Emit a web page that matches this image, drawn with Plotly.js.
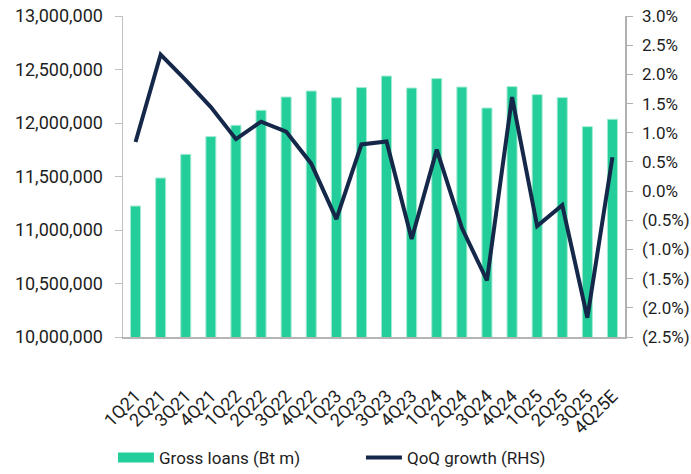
<!DOCTYPE html>
<html>
<head>
<meta charset="utf-8">
<script src="https://cdn.plot.ly/plotly-3.0.1.min.js"></script>
<style>html,body{margin:0;padding:0;background:#fff;}#chart{width:691px;height:474px;}</style>
</head>
<body>
<div id="chart"></div>
<script>
const quarters = ["1Q21","2Q21","3Q21","4Q21","1Q22","2Q22","3Q22","4Q22","1Q23","2Q23","3Q23","4Q23","1Q24","2Q24","3Q24","4Q24","1Q25","2Q25","3Q25","4Q25E"];
const grossLoans = [11224000,11486000,11707000,11873000,11979000,12119000,12243000,12299000,12237000,12331000,12439000,12327000,12415000,12336000,12140000,12340000,12265000,12237000,11966000,12035000];
const qoqGrowth = [0.84,2.34,1.90,1.44,0.89,1.19,1.02,0.47,-0.48,0.80,0.85,-0.82,0.71,-0.63,-1.53,1.61,-0.60,-0.24,-2.17,0.58];
const rightTickVals = [-2.5,-2.0,-1.5,-1.0,-0.5,0,0.5,1.0,1.5,2.0,2.5,3.0];
const rightTickText = ["(2.5%)","(2.0%)","(1.5%)","(1.0%)","(0.5%)","0.0%","0.5%","1.0%","1.5%","2.0%","2.5%","3.0%"];

const FAM = "Roboto, 'Liberation Sans', sans-serif";
const tickFont = {family: FAM, size: 18, color: "#1e1e1e"};
const rightFont = {family: FAM, size: 17, color: "#1e1e1e"};

const traces = [
  {type: "bar", x: quarters, y: grossLoans, name: "Gross loans (Bt m)", showlegend: false,
   marker: {color: "#23CE9A", line: {color: "#A6EBD3", width: 1}}, yaxis: "y"},
  {type: "scatter", mode: "lines", x: [null], y: [null], name: "Gross loans (Bt m)",
   line: {color: "#23CE9A", width: 15}, yaxis: "y", hoverinfo: "skip"},
  {type: "scatter", mode: "lines", x: quarters, y: qoqGrowth, name: "QoQ growth (RHS)",
   line: {color: "#15284A", width: 4}, yaxis: "y2"}
];

const layout = {
  width: 691, height: 474,
  margin: {l: 123, r: 66, t: 16, b: 137, autoexpand: false},
  paper_bgcolor: "#fff", plot_bgcolor: "#fff",
  font: {family: FAM, size: 17, color: "#1e1e1e"},
  bargap: 0.6,
  showlegend: true,
  legend: {orientation: "h", x: -0.02, y: -0.377, xanchor: "left", yanchor: "middle",
           font: {family: FAM, size: 17, color: "#1e1e1e"},
           itemwidth: 36, entrywidth: 197, tracegroupgap: 0},
  xaxis: {type: "category", tickangle: -45, showline: true, linecolor: "#b5b5b5", linewidth: 1.5,
          ticks: "", ticklabelstandoff: 40, showgrid: false,
          tickfont: tickFont, automargin: false},
  yaxis: {range: [10000000, 13000000], dtick: 500000, tickformat: ",d", showgrid: false,
          showline: true, linecolor: "#c0c0c0", linewidth: 1.5, ticks: "outside", ticklen: 7,
          ticklabelstandoff: 8,
          tickcolor: "#c0c0c0", tickfont: tickFont, zeroline: false, automargin: false},
  yaxis2: {overlaying: "y", side: "right", range: [-2.5, 3.0], tickmode: "array",
           tickvals: rightTickVals, ticktext: rightTickText, showgrid: false, zeroline: false,
           showline: true, linecolor: "#b0b0b0", linewidth: 1.5, ticks: "outside", ticklen: 6,
           ticklabelstandoff: 6,
           tickcolor: "#b0b0b0", tickfont: rightFont, automargin: false}
};

Plotly.newPlot("chart", traces, layout, {displayModeBar: false, staticPlot: true});
</script>
</body>
</html>
